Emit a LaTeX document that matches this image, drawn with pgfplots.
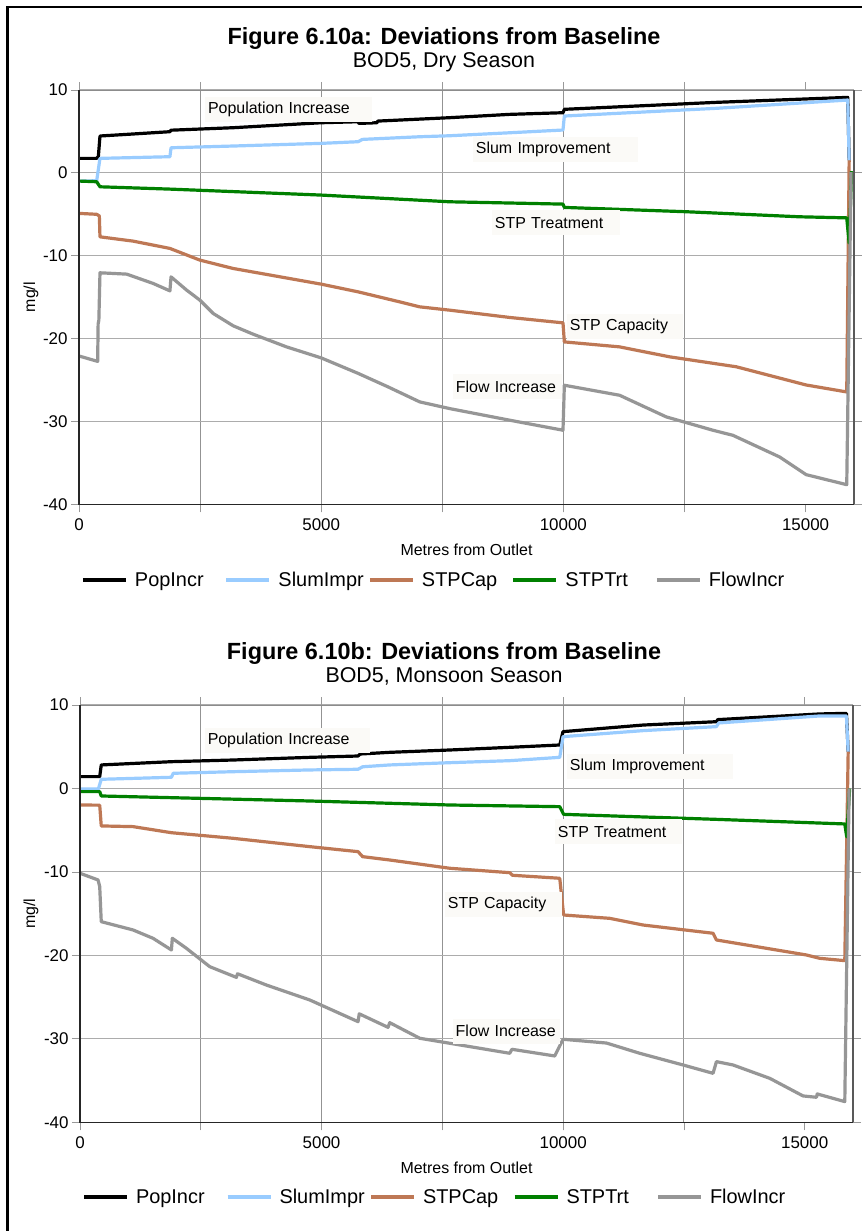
\documentclass[border=0pt]{standalone}
\usepackage{fontspec}
\setmainfont{Liberation Sans}
\usepackage{pgfplots}
\pgfplotsset{compat=1.18}
\definecolor{popc}{RGB}{0,0,0}
\definecolor{slumc}{RGB}{153,204,255}
\definecolor{capc}{RGB}{190,120,85}
\definecolor{trtc}{RGB}{0,128,0}
\definecolor{flowc}{RGB}{150,150,150}
\definecolor{annfill}{RGB}{251,250,247}
\tikzset{ann/.style={anchor=west, fill=annfill, inner xsep=3bp, inner ysep=0bp, minimum height=25bp, font=\fontsize{16}{19}\selectfont, align=left}}
\pgfplotsset{
 devstyle/.style={
  scale only axis,
  xmin=0, xmax=16000, ymin=-40, ymax=10,
  xtick={0,5000,10000,15000},
  minor xtick={2500,5000,7500,10000,12500},
  ytick={-40,-30,-20,-10,0,10},
  xminorgrids=true, ymajorgrids=true, xmajorgrids=false,
  tick align=outside,
  major tick length=8bp, minor tick length=8bp,
  tick style={color=gray!80, line width=0.8bp},
  major y grid style={color=gray!65, line width=1.1bp},
  minor x grid style={color=gray!85, line width=0.9bp},
  axis line style={color=gray!90, line width=1bp},
  ticklabel style={font=\fontsize{17}{19}\selectfont},
  xticklabel style={yshift=-3bp},
  /pgf/number format/assume math mode=true,
  /pgf/number format/1000 sep={},
  scaled x ticks=false, scaled y ticks=false,
  xlabel={Metres from Outlet},
  xlabel style={font=\fontsize{16}{19}\selectfont, anchor=base, inner sep=0pt},
  ylabel={mg/l},
  ylabel style={font=\fontsize{16}{19}\selectfont, anchor=center, inner sep=0pt},
  legend columns=5,
  legend cell align=left,
  legend image code/.code={\draw[##1, line width=4bp] (0bp,0bp) -- (43bp,0bp);},
  every axis plot/.append style={line width=3.2bp, line join=round, mark=none},
  after end axis/.code={
    \draw[color=black!85, line width=1.5bp] (rel axis cs:0,1) -- (rel axis cs:0,0) -- (rel axis cs:1,0);
    \draw[color=black!65, line width=1.3bp] (rel axis cs:1,0) -- (rel axis cs:1,1);
  },
 },
}
\begin{document}
\begin{tikzpicture}
\useasboundingbox (0,0) rectangle (862bp,-1231bp);
\fill[white] (0,0) rectangle (862bp,-1231bp);
\draw[line width=2.5bp] (7.5bp,-1231bp) -- (7.5bp,-7bp) -- (862bp,-7bp);
% ---------------- Chart a ----------------
\node[font=\fontsize{23.5}{28}\selectfont\bfseries, anchor=base] at (444bp,-44.5bp) {Figure 6.10a: Deviations from Baseline};
\node[font=\fontsize{21.5}{26}\selectfont, anchor=base] at (444bp,-67.5bp) {BOD5, Dry Season};
\begin{axis}[devstyle,
  width=775bp, height=414.3bp, at={(79bp,-504.3bp)}, anchor=south west,
  xlabel style={at={(axis description cs:0.5,-0.1224)}},
  ylabel style={at={(axis description cs:-0.0619,0.5)}},
  legend style={at={(0.00258,-0.1827)}, anchor=west, draw=none, fill=none, inner sep=0pt, outer sep=0pt,
    font=\fontsize{20}{24}\selectfont, nodes={inner sep=0pt},
    /tikz/every odd column/.append style={column sep=7bp}},
]
\addplot[popc] coordinates {(0,1.75) (365,1.75) (400,2.0) (433,4.45) (1000,4.65) (1877,4.97) (1900,5.15) (3184,5.45) (5000,6.05) (5760,6.17) (5780,5.97) (6150,6.05) (6170,6.25) (7654,6.66) (8892,7.06) (9992,7.26) (10020,7.67) (13156,8.51) (15871,9.11) (15900,1.5)};
\addlegendentry{\makebox[89.5bp][l]{PopIncr}}
\addplot[slumc] coordinates {(0,-1.0) (365,-0.95) (433,1.75) (1877,1.95) (1900,3.03) (3184,3.24) (5000,3.56) (5763,3.76) (5850,4.04) (7035,4.36) (7654,4.48) (8892,4.84) (9992,5.17) (10020,6.86) (13156,7.79) (15871,8.79) (15900,1.5)};
\addlegendentry{\makebox[89.5bp][l]{SlumImpr}}
\addplot[capc] coordinates {(0,-4.89) (365,-5.0) (420,-5.2) (433,-7.72) (1120,-8.24) (1877,-9.12) (2496,-10.53) (3184,-11.54) (5000,-13.43) (5763,-14.36) (6622,-15.57) (7035,-16.17) (7654,-16.57) (8892,-17.45) (9992,-18.1) (10020,-20.4) (11161,-21.0) (12192,-22.2) (13568,-23.4) (15012,-25.6) (15850,-26.44) (15900,1.5)};
\addlegendentry{\makebox[89.5bp][l]{STPCap}}
\addplot[trtc] coordinates {(0,-0.99) (365,-1.07) (433,-1.68) (1877,-1.96) (5000,-2.68) (7654,-3.49) (9992,-3.77) (10020,-4.17) (12536,-4.69) (14874,-5.3) (15850,-5.43) (15900,-8.5) (15950,0.2)};
\addlegendentry{\makebox[89.5bp][l]{STPTrt}}
\addplot[flowc] coordinates {(0,-22.1) (385,-22.75) (395,-18.2) (410,-17.8) (433,-12.06) (984,-12.22) (1120,-12.5) (1533,-13.35) (1877,-14.24) (1900,-12.55) (2222,-14.15) (2496,-15.36) (2771,-16.97) (3184,-18.46) (3596,-19.47) (4284,-21.0) (5000,-22.33) (5763,-24.2) (6381,-25.83) (7035,-27.64) (7654,-28.45) (8892,-29.85) (9992,-31.06) (10020,-25.63) (11161,-26.84) (12124,-29.45) (13086,-31.06) (13499,-31.67) (14462,-34.28) (15012,-36.42) (15850,-37.63) (15940,0.1)};
\addlegendentry{FlowIncr}
\node[ann, text width=161bp] at (axis cs:2599,7.7) {Population Increase};
\node[ann, text width=159bp] at (axis cs:8128,2.81) {Slum Improvement};
\node[ann, text width=122bp] at (axis cs:8520,-6.0) {STP Treatment};
\node[ann, text width=110bp] at (axis cs:10067,-18.56) {STP Capacity};
\node[ann, text width=103bp] at (axis cs:7716,-25.8) {Flow Increase};
\end{axis}
% ---------------- Chart b ----------------
\node[font=\fontsize{23.5}{28}\selectfont\bfseries, anchor=base] at (444bp,-659.5bp) {Figure 6.10b: Deviations from Baseline};
\node[font=\fontsize{21.5}{26}\selectfont, anchor=base] at (444bp,-682.5bp) {BOD5, Monsoon Season};
\begin{axis}[devstyle,
  width=773bp, height=417.3bp, at={(80bp,-1122.3bp)}, anchor=south west,
  xlabel style={at={(axis description cs:0.5,-0.1215)}},
  ylabel style={at={(axis description cs:-0.0634,0.5)}},
  legend style={at={(0.0026,-0.179)}, anchor=west, draw=none, fill=none, inner sep=0pt, outer sep=0pt,
    font=\fontsize{20}{24}\selectfont, nodes={inner sep=0pt},
    /tikz/every odd column/.append style={column sep=7bp}},
]
\addplot[popc] coordinates {(0,1.42) (408,1.42) (440,2.82) (1892,3.21) (3167,3.41) (4755,3.73) (5755,3.89) (5800,4.13) (6411,4.33) (7653,4.61) (8895,4.93) (9930,5.21) (9998,6.81) (11654,7.6) (13173,8.0) (13200,8.25) (15312,8.93) (15864,9.0) (15900,4.4)};
\addlegendentry{\makebox[89.5bp][l]{PopIncr}}
\addplot[slumc] coordinates {(0,-0.06) (380,-0.06) (440,1.1) (1892,1.34) (1930,1.82) (3167,2.01) (4755,2.22) (5755,2.3) (5850,2.6) (6411,2.82) (7653,3.09) (8895,3.33) (9930,3.73) (9998,6.21) (11654,6.93) (13173,7.41) (13220,7.85) (15312,8.69) (15864,8.69) (15900,4.4)};
\addlegendentry{\makebox[89.5bp][l]{SlumImpr}}
\addplot[capc] coordinates {(0,-1.98) (408,-2.0) (440,-4.49) (1097,-4.57) (1892,-5.3) (3167,-5.97) (4755,-6.97) (5755,-7.57) (5850,-8.17) (6411,-8.57) (7653,-9.56) (8895,-10.09) (8950,-10.4) (9930,-10.76) (10010,-15.16) (10965,-15.56) (11654,-16.36) (13103,-17.35) (13173,-18.15) (15036,-19.95) (15312,-20.35) (15830,-20.63) (15900,4.4)};
\addlegendentry{\makebox[89.5bp][l]{STPCap}}
\addplot[trtc] coordinates {(0,-0.38) (408,-0.38) (440,-0.9) (4755,-1.5) (7653,-1.98) (9930,-2.18) (10010,-3.1) (13173,-3.7) (15830,-4.25) (15870,-5.8) (15930,0.0)};
\addlegendentry{\makebox[89.5bp][l]{STPTrt}}
\addplot[flowc] coordinates {(0,-10.16) (373,-10.96) (408,-11.76) (440,-15.96) (1097,-16.95) (1511,-17.95) (1892,-19.35) (1911,-17.95) (2202,-19.15) (2685,-21.35) (3237,-22.63) (3260,-22.2) (3858,-23.55) (4755,-25.34) (5755,-27.94) (5780,-27.0) (6376,-28.62) (6410,-28.06) (7032,-29.93) (7653,-30.53) (8895,-31.73) (8940,-31.25) (9826,-32.05) (9998,-30.05) (10896,-30.5) (11586,-31.73) (12482,-33.13) (13103,-34.13) (13173,-32.73) (13517,-33.13) (14277,-34.73) (14966,-36.84) (15243,-37.0) (15260,-36.6) (15830,-37.52) (15920,0.0)};
\addlegendentry{FlowIncr}
\node[ann, text width=159bp] at (axis cs:2578,5.75) {Population Increase};
\node[ann, text width=160bp] at (axis cs:10075,2.64) {Slum Improvement};
\node[ann, text width=121bp] at (axis cs:9826,-5.21) {STP Treatment};
\node[ann, text width=111bp] at (axis cs:7549,-13.9) {STP Capacity};
\node[ann, text width=101bp] at (axis cs:7711,-29.06) {Flow Increase};
\end{axis}
\end{tikzpicture}
\end{document}
